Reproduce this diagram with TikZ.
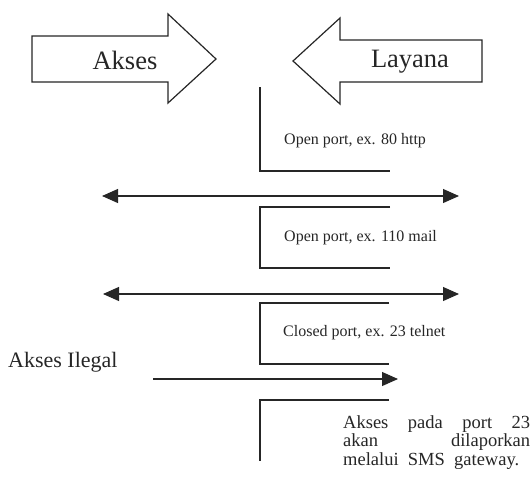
\documentclass[tikz,border=0pt]{standalone}
\usepackage{fontspec}
\setmainfont{Liberation Serif}
\usetikzlibrary{arrows.meta}

\tikzset{
  blockarrow/.style={draw=black!85, line width=1.2pt, fill=white, line join=miter},
  bracket/.style={draw=black!85, line width=1.1pt},
  flow/.style={draw=black!85, line width=1.1pt, -{Triangle[length=16pt,width=14pt]}},
  twoway/.style={draw=black!85, line width=1.1pt, {Triangle[length=16pt,width=14pt]}-{Triangle[length=16pt,width=14pt]}},
  bigtext/.style={font=\fontsize{26.5}{30}\selectfont, inner sep=0pt, text=black!85},
  porttext/.style={font=\fontsize{16}{19}\selectfont, inner sep=0pt, anchor=west, text=black!85},
}
\newcommand{\spreadline}[2]{\leavevmode\hbox to #1{#2}}

\begin{document}
\begin{tikzpicture}[x=1pt, y=-1pt]
\useasboundingbox (0,0) rectangle (531,480);

% block arrows at the top
\draw[blockarrow] (32,36) -- (168,36) -- (168,14) -- (216,59) -- (168,103) -- (168,82) -- (32,82) -- cycle;
\draw[blockarrow] (293,61) -- (340,18) -- (340,40) -- (482,40) -- (482,82) -- (340,82) -- (340,104) -- cycle;
\node[bigtext] (akses) at (125,60) {Akses};
\node[bigtext] (layana) at (410,62) {Layana};

% port brackets
\coordinate (b1a) at (260,87);  \coordinate (b1b) at (260,171); \coordinate (b1c) at (390,171);
\coordinate (b2a) at (390,207); \coordinate (b2b) at (260,207); \coordinate (b2c) at (260,268); \coordinate (b2d) at (390,268);
\coordinate (b3a) at (389,303); \coordinate (b3b) at (260,303); \coordinate (b3c) at (260,364); \coordinate (b3d) at (389,364);
\coordinate (b4a) at (389,400); \coordinate (b4b) at (260,400); \coordinate (b4c) at (260,461);
\draw[bracket] (b1a) -- (b1b) -- (b1c);
\draw[bracket] (b2a) -- (b2b) -- (b2c) -- (b2d);
\draw[bracket] (b3a) -- (b3b) -- (b3c) -- (b3d);
\draw[bracket] (b4a) -- (b4b) -- (b4c);

\node[porttext] (p80) at (284,141) {Open port, ex. 80 http};
\node[porttext] (p110) at (284,238) {Open port, ex. 110 mail};
\node[porttext] (p23) at (283,333) {Closed port, ex. 23 telnet};

% traffic through the open ports
\coordinate (l1) at (102,196); \coordinate (r1) at (459,196);
\coordinate (l2) at (103,294); \coordinate (r2) at (459,294);
\draw[twoway] (l1) -- (r1);
\draw[twoway] (l2) -- (r2);

% illegal access
\node[font=\fontsize{22}{26}\selectfont, inner sep=0pt, anchor=west, text=black!85] (ilegal) at (8,362) {Akses Ilegal};
\coordinate (i1) at (153,379); \coordinate (i2) at (398,379);
\draw[flow] (i1) -- (i2);

% note, justified line by line
\node[anchor=north west, inner sep=0pt, text width=187pt, align=left,
      font=\fontsize{18.5}{18.5}\selectfont, text=black!85] (note) at (343,415)
  {\spreadline{187pt}{Akses\hfill pada\hfill port\hfill 23}\\
   \spreadline{187pt}{akan\hfill dilaporkan}\\
   \spreadline{176pt}{melalui\hfill SMS\hfill gateway.}};
\end{tikzpicture}
\end{document}
